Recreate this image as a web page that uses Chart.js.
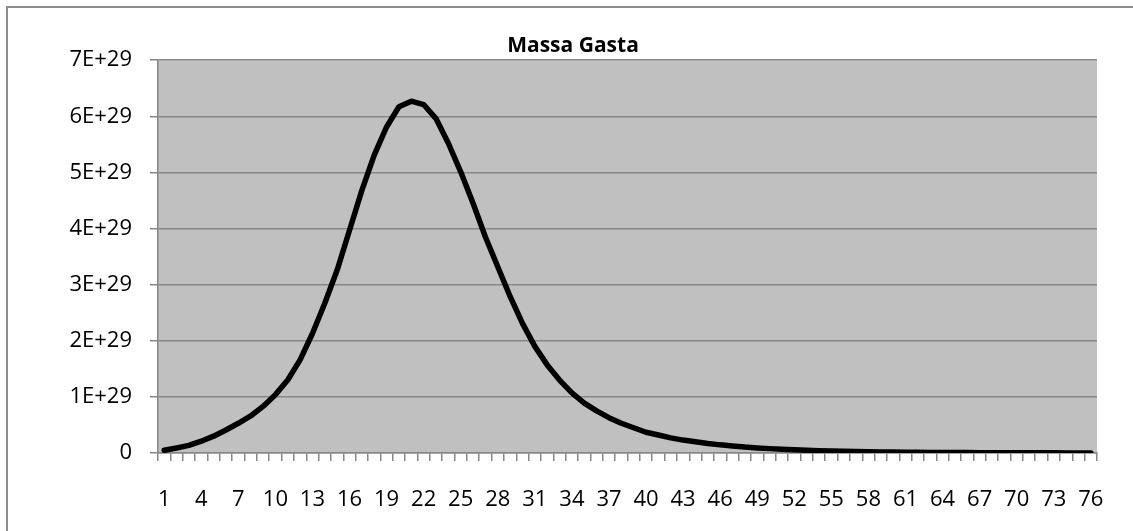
<!DOCTYPE html>
<html>
<head>
<meta charset="utf-8">
<script src="https://cdn.jsdelivr.net/npm/chart.js@4/dist/chart.umd.min.js"></script>
<style>
  html, body { margin: 0; padding: 0; background: #ffffff; }
  #wrap { width: 1133px; height: 531px; position: relative; }
</style>
</head>
<body>
<div id="wrap"><canvas id="chart" width="1133" height="531"></canvas></div>
<script>
// Categories along the x axis (steps 1..76)
const categories = [];
for (let i = 1; i <= 76; i++) categories.push(String(i));

// Mass spent per step
const massaGasta = [
  0.05e29, 0.09e29, 0.135e29, 0.21e29, 0.30e29, 0.41e29, 0.53e29, 0.66e29, 0.83e29, 1.04e29,
  1.30e29, 1.66e29, 2.13e29, 2.67e29, 3.26e29, 3.97e29, 4.68e29, 5.31e29, 5.81e29, 6.17e29,
  6.27e29, 6.21e29, 5.96e29, 5.52e29, 5.01e29, 4.45e29, 3.85e29, 3.32e29, 2.79e29, 2.31e29,
  1.90e29, 1.57e29, 1.30e29, 1.07e29, 0.89e29, 0.75e29, 0.63e29, 0.53e29, 0.45e29, 0.37e29,
  0.32e29, 0.27e29, 0.23e29, 0.20e29, 0.17e29, 0.145e29, 0.125e29, 0.105e29, 0.09e29, 0.078e29,
  0.067e29, 0.057e29, 0.049e29, 0.042e29, 0.036e29, 0.031e29, 0.027e29, 0.023e29, 0.020e29, 0.017e29,
  0.015e29, 0.013e29, 0.011e29, 0.0095e29, 0.008e29, 0.007e29, 0.006e29, 0.005e29, 0.0045e29, 0.004e29,
  0.0034e29, 0.003e29, 0.0026e29, 0.0022e29, 0.0019e29, 0.0016e29
];

// Value-axis tick labels, from 0 up to 7E+29
const yTickValues = [0, 1e29, 2e29, 3e29, 4e29, 5e29, 6e29, 7e29];
const yTickLabels = ['0', '1E+29', '2E+29', '3E+29', '4E+29', '5E+29', '6E+29', '7E+29'];

const GRID = '#878787';
const FONT = "'Open Sans', 'DejaVu Sans', sans-serif";

// Grey plot background plus the chart frame lines
const framePlugin = {
  id: 'frame',
  beforeDraw(chart) {
    const { ctx, chartArea: a } = chart;
    ctx.save();
    ctx.fillStyle = '#c0c0c0';
    ctx.fillRect(a.left, a.top, a.right - a.left, a.bottom - a.top);
    ctx.strokeStyle = '#8c8c8c';
    ctx.lineWidth = 2;
    ctx.beginPath();
    ctx.moveTo(7, chart.height);
    ctx.lineTo(7, 7);
    ctx.lineTo(chart.width, 7);
    ctx.stroke();
    ctx.restore();
  }
};

new Chart(document.getElementById('chart'), {
  type: 'line',
  data: {
    labels: categories,
    datasets: [{
      label: 'Massa Gasta',
      data: massaGasta,
      borderColor: '#000000',
      borderWidth: 5.5,
      borderCapStyle: 'round',
      borderJoinStyle: 'round',
      pointRadius: 0,
      tension: 0,
      fill: false
    }]
  },
  options: {
    responsive: false,
    animation: false,
    layout: { padding: { left: 49, right: 36, top: 0, bottom: 22 } },
    plugins: {
      legend: { display: false },
      tooltip: { enabled: false },
      title: {
        display: true,
        text: 'Massa Gasta',
        color: '#000000',
        font: { family: FONT, size: 21, weight: 'bold', lineHeight: 1.2 },
        padding: { top: 33, bottom: 2 }
      }
    },
    scales: {
      x: {
        type: 'category',
        offset: true,
        afterFit(scale) { scale.height = 56; },
        grid: {
          display: true,
          offset: true,
          drawOnChartArea: false,
          drawTicks: true,
          tickLength: 8,
          color: GRID,
          lineWidth: 1.5
        },
        border: { display: true, color: GRID, width: 1.5 },
        ticks: {
          autoSkip: false,
          maxRotation: 0,
          minRotation: 0,
          padding: 26,
          color: '#000000',
          font: { family: FONT, size: 22, lineHeight: 1.2 },
          callback: (val, idx) => (idx % 3 === 0 ? categories[idx] : '')
        }
      },
      y: {
        min: 0,
        max: 7e29,
        afterBuildTicks(scale) {
          scale.ticks = yTickValues.map(v => ({ value: v }));
        },
        afterFit(scale) { scale.width = 109; },
        grid: {
          color: GRID,
          lineWidth: 1.5,
          drawTicks: true,
          tickLength: 8
        },
        border: { display: true, color: GRID, width: 1.5 },
        ticks: {
          padding: 18,
          color: '#000000',
          font: { family: FONT, size: 22, lineHeight: 1.2 },
          callback: (val) => yTickLabels[yTickValues.indexOf(val)]
        }
      }
    }
  },
  plugins: [framePlugin]
});
</script>
</body>
</html>
